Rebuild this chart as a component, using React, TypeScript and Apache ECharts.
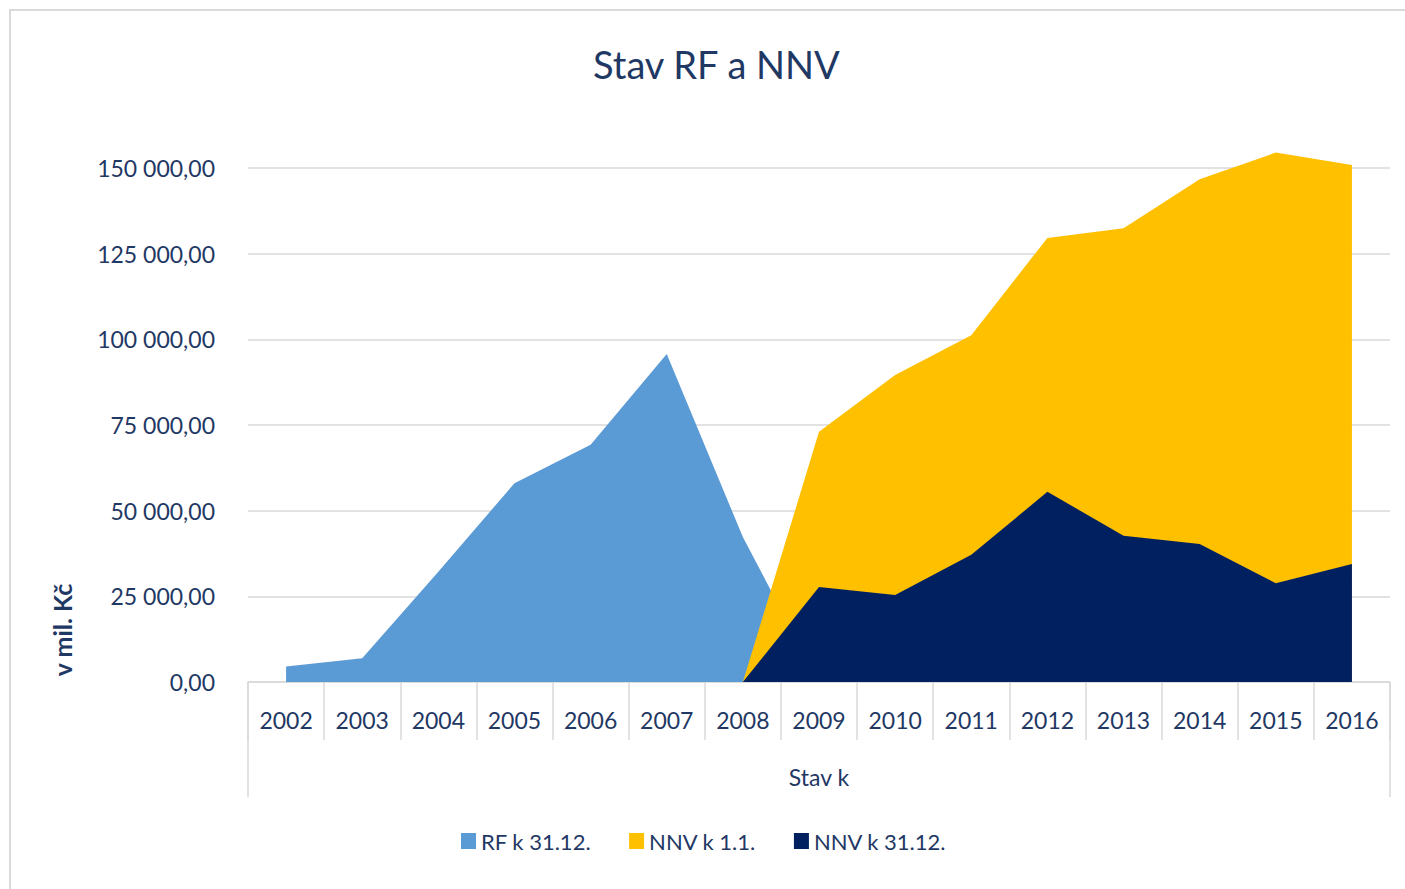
import React, { useEffect, useRef } from "react";
import * as echarts from "echarts";

const years = ["2002", "2003", "2004", "2005", "2006", "2007", "2008", "2009", "2010", "2011", "2012", "2013", "2014", "2015", "2016"];
const rfValues = [4500, 6900, 32200, 58000, 69200, 95700, 42300, 0, null, null, null, null, null, null, null];
const nnvStartValues = [null, null, null, null, null, null, 0, 73000, 89600, 101200, 129600, 132400, 146700, 154500, 150900];
const nnvEndValues = [null, null, null, null, null, null, 0, 27700, 25400, 37100, 55500, 42700, 40300, 28800, 34400];
const seriesNames = ["RF k 31.12.", "NNV k 1.1.", "NNV k 31.12."];
const seriesColors = ["#5b9bd5", "#ffc000", "#002060"];

const TEXT = "#1f3864";
const GRIDC = "#d9d9d9";
const FONT = "Lato, 'Open Sans', sans-serif";

function fmt(v: number): string {
  const s = Math.round(v).toString().replace(/\B(?=(\d{3})+(?!\d))/g, " ");
  return s + ",00";
}

export default function App() {
  const ref = useRef<HTMLDivElement>(null);
  useEffect(() => {
    if (!ref.current) return;
    const chart = echarts.init(ref.current, undefined, { renderer: "svg" });
    const gridLeft = 248;
    const gridRight = 1390;
    const mk = (i: number, data: (number | null)[]) => ({
      name: seriesNames[i],
      type: "line",
      data,
      symbol: "none",
      showSymbol: false,
      clip: false,
      lineStyle: { width: 0, color: seriesColors[i] },
      itemStyle: { color: seriesColors[i] },
      areaStyle: { color: seriesColors[i], opacity: 1 },
      emphasis: { disabled: true },
    });
    chart.setOption({
      animation: false,
      backgroundColor: "#ffffff",
      textStyle: { fontFamily: FONT },
      title: {
        text: "Stav RF a NNV",
        left: 588,
        top: 40,
        textStyle: { color: TEXT, fontSize: 38, fontWeight: "normal", fontFamily: FONT },
      },
      grid: { left: gridLeft, right: 1405 - gridRight, top: 168, bottom: 889 - 682 },
      legend: {
        bottom: 32,
        left: 456,
        icon: "rect",
        itemWidth: 15,
        itemHeight: 16,
        itemGap: 38,
        textStyle: { color: TEXT, fontSize: 22, fontFamily: FONT, padding: [0, 0, 0, 0] },
        data: seriesNames,
      },
      xAxis: {
        type: "category",
        data: years,
        boundaryGap: true,
        name: "Stav k",
        nameLocation: "middle",
        nameGap: 83,
        nameTextStyle: { color: TEXT, fontSize: 23, fontFamily: FONT },
        axisLine: { show: true, lineStyle: { color: GRIDC, width: 1.5 } },
        axisTick: { show: true, length: 58, interval: 0, lineStyle: { color: GRIDC, width: 1.5 } },
        axisLabel: { color: TEXT, fontSize: 23, margin: 26, fontFamily: FONT, interval: 0 },
        splitLine: { show: false },
      },
      yAxis: {
        type: "value",
        min: 0,
        max: 150000,
        interval: 25000,
        axisLine: { show: false },
        axisTick: { show: false },
        axisLabel: { color: TEXT, fontSize: 23, margin: 33, fontFamily: FONT, formatter: (v: number) => fmt(v) },
        splitLine: { show: true, lineStyle: { color: GRIDC, width: 1.5 } },
      },
      graphic: [
        {
          type: "rect",
          shape: { x: 10, y: 10, width: 1430, height: 920 },
          style: { fill: "none", stroke: GRIDC, lineWidth: 2 },
          silent: true,
        },
        {
          type: "line",
          shape: { x1: gridLeft, y1: 682, x2: gridLeft, y2: 797 },
          style: { stroke: GRIDC, lineWidth: 1.5 },
          silent: true,
        },
        {
          type: "line",
          shape: { x1: gridRight, y1: 682, x2: gridRight, y2: 797 },
          style: { stroke: GRIDC, lineWidth: 1.5 },
          silent: true,
        },
        {
          type: "text",
          x: 62,
          y: 630,
          rotation: Math.PI / 2,
          style: {
            text: "v mil. Kč",
            fill: TEXT,
            font: `bold 25px ${FONT}`,
            align: "center",
            verticalAlign: "middle",
          },
          silent: true,
        },
      ],
      series: [mk(0, rfValues), mk(1, nnvStartValues), mk(2, nnvEndValues)],
    });
    return () => chart.dispose();
  }, []);
  return <div ref={ref} style={{ position: "fixed", left: 0, top: 0, width: 1405, height: 889 }} />;
}
